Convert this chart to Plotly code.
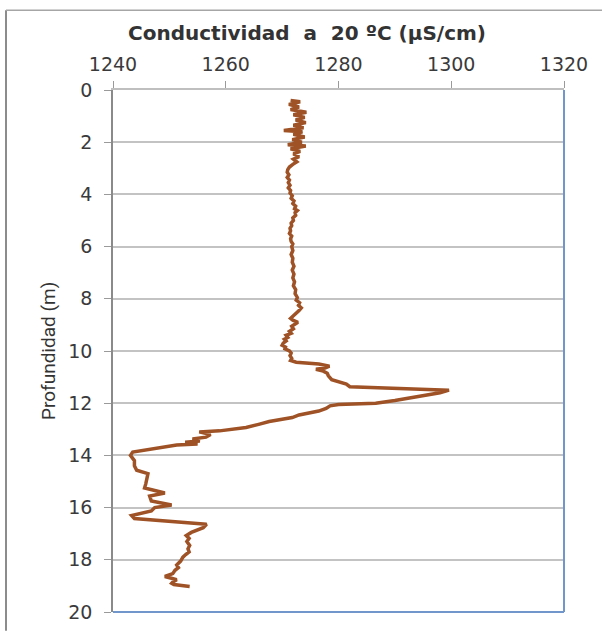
import plotly.graph_objects as go

# Depth (m) and conductivity at 20 ºC (µS/cm)
depth = [0.40, 0.45, 0.55, 0.65, 0.75, 0.85, 0.95, 1.05, 1.15, 1.25, 1.35, 1.45,
         1.55, 1.60, 1.70, 1.80, 1.90, 2.00, 2.10, 2.15, 2.25, 2.35, 2.45, 2.55,
         2.65, 2.75, 2.85, 2.95, 3.05, 3.15, 3.25, 3.35, 3.45, 3.55, 3.65, 3.75,
         3.85, 3.95, 4.05, 4.15, 4.25, 4.35, 4.45, 4.55, 4.62, 4.70, 4.80, 4.90,
         5.00, 5.10, 5.20, 5.30, 5.40, 5.50, 5.60, 5.70, 5.80, 5.90, 6.00, 6.15,
         6.30, 6.45, 6.60, 6.75, 6.90, 7.05, 7.20, 7.35, 7.50, 7.65, 7.80, 7.95,
         8.05, 8.15, 8.25, 8.35, 8.45, 8.55, 8.65, 8.75, 8.82, 8.90, 8.97, 9.05,
         9.15, 9.25, 9.32, 9.40, 9.48, 9.55, 9.62, 9.70, 9.78, 9.85, 9.92, 10.00,
         10.08, 10.18, 10.28, 10.36, 10.43, 10.50, 10.58, 10.65, 10.70, 10.77, 10.85, 10.95,
         11.10, 11.20, 11.27, 11.37, 11.45, 11.50, 11.60, 11.70, 11.80, 11.90, 12.00, 12.02,
         12.05, 12.10, 12.20, 12.30, 12.36, 12.45, 12.55, 12.70, 12.80, 12.93, 13.06, 13.10,
         13.20, 13.30, 13.37, 13.45, 13.50, 13.56, 13.60, 13.75, 13.87, 14.00, 14.20, 14.40,
         14.57, 14.70, 14.95, 15.10, 15.25, 15.35, 15.44, 15.56, 15.75, 15.90, 16.00, 16.13,
         16.30, 16.42, 16.50, 16.57, 16.64, 16.77, 16.95, 17.07, 17.18, 17.30, 17.45, 17.58,
         17.70, 17.80, 17.90, 18.05, 18.20, 18.30, 18.40, 18.53, 18.64, 18.70, 18.76, 18.85,
         18.90, 18.95, 19.02]
conductivity = [1271.5, 1273.2, 1271.2, 1273.0, 1271.5, 1274.3, 1272.0, 1274.0, 1272.4, 1274.2, 1272.0, 1273.8,
                1270.3, 1273.6, 1272.0, 1274.0, 1271.8, 1273.5, 1271.0, 1274.2, 1271.5, 1273.2, 1272.0, 1273.0,
                1272.0, 1272.6, 1271.9, 1271.3, 1271.0, 1270.9, 1271.2, 1270.9, 1271.3, 1271.1, 1271.4, 1271.1,
                1271.5, 1271.4, 1271.8, 1271.6, 1272.1, 1271.9, 1272.4, 1272.2, 1272.7, 1272.3, 1272.4, 1271.9,
                1272.0, 1271.6, 1271.7, 1271.4, 1271.5, 1271.3, 1271.7, 1271.5, 1271.6, 1271.9, 1271.7, 1271.9,
                1271.6, 1271.9, 1271.8, 1272.1, 1271.8, 1272.1, 1271.9, 1272.2, 1272.0, 1272.4, 1272.3, 1272.7,
                1272.5, 1273.1, 1272.9, 1273.4, 1273.0, 1272.6, 1272.0, 1271.5, 1271.9, 1272.8, 1272.4, 1271.7,
                1272.0, 1271.3, 1271.6, 1270.7, 1271.0, 1270.4, 1270.7, 1270.2, 1270.0, 1270.6, 1270.5, 1271.3,
                1271.6, 1271.4, 1271.7, 1271.5, 1272.5, 1276.5, 1278.4, 1277.6, 1276.0, 1277.3, 1278.0, 1278.2,
                1278.8, 1280.5, 1281.4, 1282.0, 1291.0, 1299.6, 1298.0, 1295.5, 1293.0, 1290.0, 1286.6, 1283.0,
                1280.0, 1278.5, 1277.8, 1276.5, 1274.8, 1273.0, 1271.8, 1267.7, 1266.0, 1263.6, 1258.9, 1255.3,
                1257.3, 1256.5, 1254.1, 1255.4, 1252.8, 1255.0, 1251.3, 1246.5, 1243.5, 1243.1, 1243.8, 1243.8,
                1244.2, 1246.2, 1246.0, 1245.8, 1245.6, 1247.5, 1249.2, 1246.5, 1246.8, 1250.4, 1247.4, 1246.8,
                1243.3, 1243.8, 1248.0, 1253.0, 1256.6, 1256.0, 1253.9, 1253.0, 1253.5, 1253.1, 1253.6, 1253.3,
                1253.5, 1252.9, 1252.4, 1252.0, 1251.3, 1251.6, 1251.0, 1250.6, 1249.2, 1250.2, 1251.3, 1250.6,
                1250.4, 1250.8, 1253.6]

x_ticks = [1240, 1260, 1280, 1300, 1320]
y_ticks = [0, 2, 4, 6, 8, 10, 12, 14, 16, 18, 20]

title_text = "Conductividad\u00a0 a\u00a0 20 ºC (µS/cm)"
y_label = "Profundidad (m)"

W, H = 602, 635
L, R, T, B = 113, 38, 90, 14
pw, ph = W - L - R, H - T - B


def px_x(p):
    return (p - L) / pw


def px_y(p):
    return (H - B - p) / ph


fig = go.Figure()
fig.add_trace(go.Scatter(
    x=conductivity, y=depth, mode="lines",
    line=dict(color="#9E5226", width=3.5),
    showlegend=False, hoverinfo="skip",
))

tick_font = dict(family="DejaVu Sans", size=19, color="#3a3a3a")

fig.update_layout(
    width=W, height=H,
    margin=dict(l=L, r=R, t=T, b=B, pad=0),
    paper_bgcolor="white", plot_bgcolor="white",
    title=dict(text="<b>" + title_text + "</b>", xref="container", yref="container",
               x=307 / W, y=1 - 33 / H, xanchor="center", yanchor="middle",
               font=dict(family="DejaVu Sans", size=20, color="#333333")),
    xaxis=dict(side="top", range=[1240, 1320], tickvals=x_ticks,
               ticktext=[str(v) for v in x_ticks],
               showgrid=False, zeroline=False,
               showline=True, linecolor="#bfbfbf", linewidth=1.5,
               ticks="outside", ticklen=7, tickcolor="#9a9a9a", tickwidth=1,
               tickfont=tick_font, ticklabelstandoff=3),
    yaxis=dict(range=[20, 0], tickvals=y_ticks,
               ticktext=[str(v) for v in y_ticks],
               showgrid=True, gridcolor="#c3c3c3", gridwidth=1.5, zeroline=False,
               showline=True, linecolor="#8a8a8a", linewidth=1.5,
               ticks="outside", ticklen=7, tickcolor="#9a9a9a", tickwidth=1,
               tickfont=tick_font, ticklabelstandoff=8),
    annotations=[dict(text=y_label, textangle=-90, xref="paper", yref="paper",
                      x=px_x(48), y=0.5, xanchor="center", yanchor="middle",
                      showarrow=False,
                      font=dict(family="Roboto", size=19, color="#333333"))],
    shapes=[
        dict(type="line", xref="paper", yref="paper", x0=1, x1=1, y0=0, y1=1,
             line=dict(color="#7196cc", width=2)),
        dict(type="line", xref="paper", yref="paper", x0=0, x1=1, y0=0, y1=0,
             line=dict(color="#7196cc", width=2)),
        dict(type="line", xref="paper", yref="paper", x0=px_x(6), x1=px_x(6),
             y0=px_y(9), y1=px_y(H + 5), line=dict(color="#8c8c8c", width=2)),
        dict(type="line", xref="paper", yref="paper", x0=px_x(6), x1=px_x(W + 5),
             y0=px_y(9), y1=px_y(9), line=dict(color="#a6a6a6", width=1.5)),
    ],
)

fig.write_html("out.html")
